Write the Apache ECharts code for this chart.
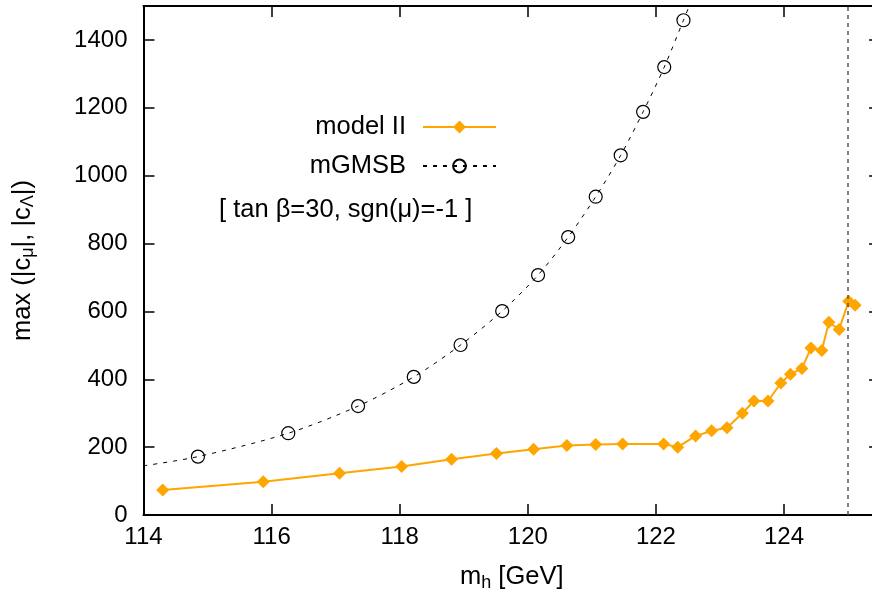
<!DOCTYPE html>
<html>
<head>
<meta charset="utf-8">
<script src="https://cdn.jsdelivr.net/npm/echarts@6/dist/echarts.min.js"></script>
<style>
html,body{margin:0;padding:0;background:#fff;}
#chart{width:872px;height:592px;}
</style>
</head>
<body>
<div id="chart"></div>
<script>
// ---- data ----
const modelX = [114.30,115.87,117.06,118.03,118.81,119.51,120.09,120.61,121.06,121.48,122.12,122.34,122.62,122.87,123.11,123.35,123.53,123.75,123.95,124.10,124.28,124.42,124.59,124.70,124.86,125.01,125.11];
const modelY = [74,98,123,143,164,181,194,205,208,209,209,200,233,248,257,300,336,336,389,415,432,492,485,568,547,630,618];
const mgmsbX = [114.85,116.26,117.35,118.22,118.95,119.60,120.16,120.63,121.06,121.45,121.80,122.13,122.43];
const mgmsbY = [172,241,321,407,501,601,707,819,938,1060,1188,1320,1458];
const mgmsbCurveStart = [114, 145];
const mgmsbCurveEnd = [122.52, 1500];
const xTicks = [114,116,118,120,122,124];
const yTicks = [0,200,400,600,800,1000,1200,1400];
const limitX = 125;
const seriesNames = ['model II','mGMSB'];
const annotation = '[ tan β=30, sgn(μ)=-1 ]';

const FONT = '"Liberation Sans", Arial, Helvetica, sans-serif';
const TXT = 25.5;
const chart = echarts.init(document.getElementById('chart'), null, {renderer:'canvas'});

const modelData = modelX.map((x,i)=>[x, modelY[i]]);
const mgmsbData = [{value: mgmsbCurveStart, symbol:'none'}]
  .concat(mgmsbX.map((x,i)=>({value:[x, mgmsbY[i]]})))
  .concat([{value: mgmsbCurveEnd, symbol:'none'}]);

const xMin = 114, xMax = 125.5, yMin = 0, yMax = 1500;

const axisCommon = {
  type:'value',
  axisLine:{show:true, onZero:false, lineStyle:{color:'#000', width:2}},
  axisTick:{show:true, inside:true, length:11, lineStyle:{color:'#000', width:1.5}},
  splitLine:{show:false}
};

const option = {
  animation:false,
  backgroundColor:'#fff',
  grid:{left:143.5, width:736.6, top:6, bottom:77, containLabel:false, outerBoundsMode:'none'},
  legend:{
    orient:'vertical', align:'right',
    right:370, top:109,
    itemWidth:73, itemHeight:16, itemGap:13,
    textStyle:{fontFamily:FONT, fontSize:TXT, color:'#000', padding:[0,12,0,0]},
    data: seriesNames
  },
  xAxis:[
    Object.assign({}, axisCommon, {
      position:'bottom', min:xMin, max:xMax, interval:2,
      axisLabel:{show:true, margin:10, fontFamily:FONT, fontSize:24, color:'#000',
        formatter:v => xTicks.indexOf(v) >= 0 ? String(v) : ''},
      name:'{a|m}{s|h}{a| [GeV]}', nameLocation:'middle', nameGap:47,
      nameTextStyle:{fontFamily:FONT, fontSize:TXT, color:'#000',
        rich:{a:{fontFamily:FONT, fontSize:TXT, lineHeight:30, color:'#000'},
              s:{fontFamily:FONT, fontSize:18, lineHeight:17, verticalAlign:'bottom', color:'#000'}}}
    }),
    Object.assign({}, axisCommon, {
      position:'top', min:xMin, max:xMax, interval:2, axisLabel:{show:false}
    })
  ],
  yAxis:[
    Object.assign({}, axisCommon, {
      position:'left', min:yMin, max:yMax, interval:200,
      axisLabel:{show:true, margin:16, fontFamily:FONT, fontSize:24, color:'#000',
        formatter:v => yTicks.indexOf(v) >= 0 ? String(v) : ''},
      name:'{a|max (|c}{s|μ}{a||, |c}{s|Λ}{a||)}', nameLocation:'middle', nameGap:106, nameRotate:90,
      nameTextStyle:{fontFamily:FONT, fontSize:TXT, color:'#000',
        rich:{a:{fontFamily:FONT, fontSize:TXT, lineHeight:30, color:'#000'},
              s:{fontFamily:FONT, fontSize:18, lineHeight:17, verticalAlign:'bottom', color:'#000'}}}
    }),
    Object.assign({}, axisCommon, {
      position:'right', min:yMin, max:yMax, interval:200, axisLabel:{show:false}
    })
  ],
  graphic:[{
    type:'text', left:219, top:197,
    style:{text:annotation, font:TXT + 'px ' + FONT, fill:'#000'}
  }],
  series:[
    {
      name:seriesNames[0], type:'line', xAxisIndex:0, yAxisIndex:0,
      data:modelData,
      symbol:'diamond', symbolSize:13,
      itemStyle:{color:'#ffa500'},
      lineStyle:{color:'#ffa500', width:2},
      z:3,
      markLine:{
        silent:true, symbol:['none','none'], label:{show:false},
        lineStyle:{color:'#555', type:[4,4], width:1.5},
        data:[{xAxis:limitX}]
      }
    },
    {
      name:seriesNames[1], type:'line', xAxisIndex:0, yAxisIndex:0,
      data:mgmsbData, smooth:0.3, clip:true,
      symbol:'circle', symbolSize:13,
      itemStyle:{color:'rgba(255,255,255,0)', borderColor:'#000', borderWidth:1.2},
      lineStyle:{color:'#000', width:1, type:[4,6]},
      z:2
    }
  ]
};
chart.setOption(option);
</script>
</body>
</html>
